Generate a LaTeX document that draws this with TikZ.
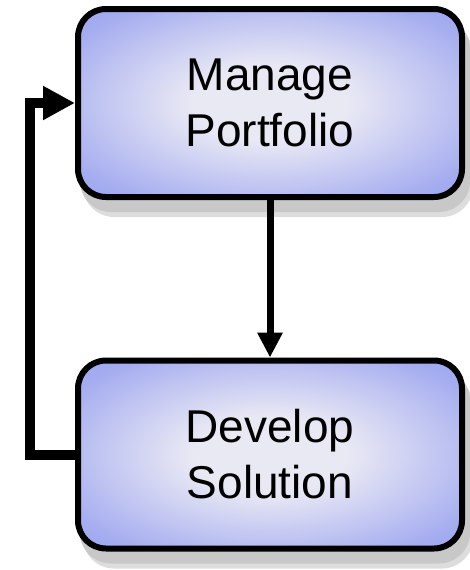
\documentclass[tikz,border=0pt]{standalone}
\usepackage{fontspec}
\setmainfont{Liberation Sans}
\usepackage{tikz}
\usetikzlibrary{arrows.meta,backgrounds}
\definecolor{glowout}{HTML}{8A97EE}
\definecolor{glowmid}{HTML}{A6AEF0}
\definecolor{glowin}{HTML}{E9E9F4}
\definecolor{shadowdark}{HTML}{C8C8C8}
\definecolor{shadowlight}{HTML}{DDDDDD}
\pgfdeclareradialshading{boxglow}{\pgfpoint{0bp}{0bp}}{color(0bp)=(glowin); color(10bp)=(glowin); color(30bp)=(glowmid); color(44bp)=(glowout); color(50bp)=(glowout)}
\newcommand{\frameline}{6pt}
\newcommand{\labelsize}{\fontsize{46}{56}\selectfont}
\tikzset{
  procbox/.style={rectangle, rounded corners=28pt, draw=black, line width=\frameline,
    minimum width=384pt, minimum height=188pt, shade, shading=boxglow},
  boxtext/.style={align=center, font=\labelsize, inner sep=0pt},
  flow/.style={draw=black, line width=7pt}
}

\begin{document}
\begin{tikzpicture}[x=1pt, y=-1pt]
\useasboundingbox (0,0) rectangle (470,570);
%boxes
\node[procbox] (manage) at (270,103) {};
\node[procbox] (develop) at (270,454.5) {};
%shadows
\begin{scope}[on background layer]
\fill[shadowlight, rounded corners=31pt] ([shift={(8,17)}]manage.north west) rectangle ([shift={(8,17)}]manage.south east);
\fill[shadowdark, rounded corners=31pt] ([shift={(5,12)}]manage.north west) rectangle ([shift={(5,12)}]manage.south east);
\fill[shadowlight, rounded corners=31pt] ([shift={(8,17)}]develop.north west) rectangle ([shift={(8,17)}]develop.south east);
\fill[shadowdark, rounded corners=31pt] ([shift={(5,12)}]develop.north west) rectangle ([shift={(5,12)}]develop.south east);
\end{scope}
%labels
\node[boxtext] (managetext) at (manage.center) {Manage\\Portfolio};
\node[boxtext] (developtext) at (develop.center) {Develop\\Solution};
%arrows
\draw[flow, -{Triangle[length=25pt, width=24pt]}] (manage) -- (develop);
\draw[flow, line width=10pt, -{Triangle[length=32pt, width=32pt]}] (develop.west) -- ++(-45,0) |- (manage.west);
\end{tikzpicture}
\end{document}
